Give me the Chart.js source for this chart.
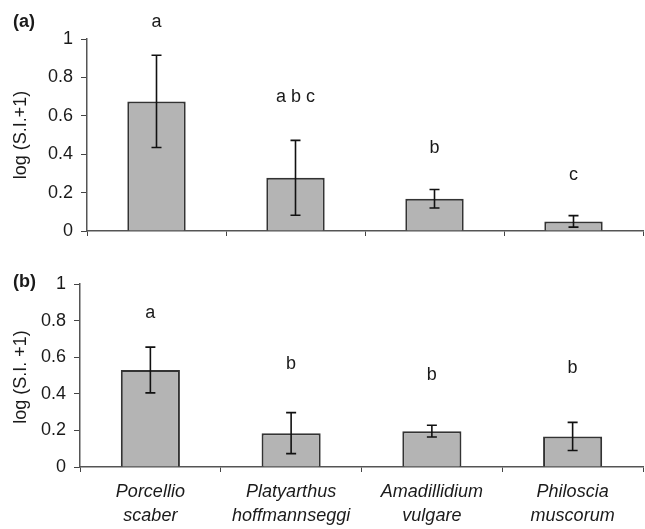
<!DOCTYPE html>
<html>
<head>
<meta charset="utf-8">
<script src="https://cdn.jsdelivr.net/npm/chart.js@4/dist/chart.umd.min.js"></script>
<style>
  body { margin: 0; background: #fff; }
  #wrap { position: relative; width: 645px; height: 529px; }
  #wrap canvas { position: absolute; left: 0; }
  #cA { top: 0; }
  #cB { top: 250px; }
</style>
</head>
<body>
<div id="wrap">
  <canvas id="cA" width="645" height="250"></canvas>
  <canvas id="cB" width="645" height="279"></canvas>
</div>
<script>
const species = [['Porcellio', 'scaber'], ['Platyarthus', 'hoffmannseggi'], ['Amadillidium', 'vulgare'], ['Philoscia', 'muscorum']];
const yTicks = [0, 0.2, 0.4, 0.6, 0.8, 1];

// panel (a)
const meanA = [0.675, 0.277, 0.168, 0.05];
const errA = [0.24, 0.195, 0.048, 0.03];
const lettersA = ['a', 'a b c', 'b', 'c'];
const letterYA = [1.09, 0.70, 0.43, 0.29];

// panel (b)
const meanB = [0.53, 0.185, 0.196, 0.167];
const errB = [0.125, 0.112, 0.032, 0.077];
const lettersB = ['a', 'b', 'b', 'b'];
const letterYB = [0.84, 0.56, 0.50, 0.54];

const FONT = "'Liberation Sans', Arial, sans-serif";
const TXT = '#1a1a1a';

// error bars and significance letters drawn through the scales
const extras = {
  id: 'extras',
  afterDatasetsDraw(chart, args, opts) {
    const ctx = chart.ctx;
    const x = chart.scales.x, y = chart.scales.y;
    ctx.save();
    ctx.strokeStyle = '#111';
    ctx.lineWidth = 1.6;
    opts.mean.forEach((m, i) => {
      const cx = x.getPixelForValue(i);
      const top = y.getPixelForValue(m + opts.err[i]);
      const bot = y.getPixelForValue(m - opts.err[i]);
      ctx.beginPath();
      ctx.moveTo(cx, top); ctx.lineTo(cx, bot);
      ctx.moveTo(cx - 5, top); ctx.lineTo(cx + 5, top);
      ctx.moveTo(cx - 5, bot); ctx.lineTo(cx + 5, bot);
      ctx.stroke();
    });
    ctx.fillStyle = TXT;
    ctx.font = '18px ' + FONT;
    ctx.textAlign = 'center';
    ctx.textBaseline = 'middle';
    opts.letters.forEach((t, i) => {
      ctx.fillText(t, x.getPixelForValue(i), y.getPixelForValue(opts.letterY[i]));
    });
    // panel tag and axis title
    ctx.font = 'bold 18px ' + FONT;
    ctx.textAlign = 'left';
    ctx.fillText(opts.tag, 13, opts.tagY);
    ctx.font = '18px ' + FONT;
    ctx.translate(21, opts.titleY);
    ctx.rotate(-Math.PI / 2);
    ctx.textAlign = 'center';
    ctx.fillText(opts.title, 0, 0);
    ctx.restore();
  }
};

function makeChart(id, mean, err, letters, letterY, cfg) {
  return new Chart(document.getElementById(id), {
    type: 'bar',
    data: {
      labels: species,
      datasets: [{
        data: mean,
        backgroundColor: '#b4b4b4',
        borderColor: '#333333',
        borderWidth: 2,
        categoryPercentage: 1,
        barPercentage: 0.42
      }]
    },
    options: {
      responsive: false,
      animation: false,
      layout: { padding: { left: 0, right: 2, top: cfg.top, bottom: 0 } },
      plugins: {
        legend: { display: false },
        tooltip: { enabled: false },
        extras: { mean: mean, err: err, letters: letters, letterY: letterY,
                  tag: cfg.tag, tagY: cfg.tagY, title: cfg.title, titleY: cfg.titleY }
      },
      scales: {
        x: {
          grid: { offset: true, drawOnChartArea: false, drawTicks: true, tickLength: 5, color: '#444' },
          border: { display: true, color: '#555', width: 1.5 },
          ticks: {
            display: cfg.showX,
            color: TXT,
            padding: 8,
            maxRotation: 0,
            autoSkip: false,
            font: { family: FONT, size: 18, style: 'italic', lineHeight: 1.33 }
          },
          afterFit: s => { s.height = cfg.xHeight; }
        },
        y: {
          min: 0, max: 1,
          afterBuildTicks: s => { s.ticks = yTicks.map(v => ({ value: v })); },
          grid: { drawOnChartArea: false, drawTicks: true, tickLength: 6, color: '#444' },
          border: { display: true, color: '#555', width: 1.5 },
          ticks: {
            color: TXT, padding: 8, font: { family: FONT, size: 18 },
            callback: v => String(Math.round(v * 10) / 10)
          },
          afterFit: s => { s.width = cfg.left; }
        }
      }
    },
    plugins: [extras]
  });
}

makeChart('cA', meanA, errA, lettersA, letterYA,
  { top: 39, left: 87, xHeight: 19, showX: false, tag: '(a)', tagY: 22, title: 'log (S.I.+1)', titleY: 135 });
makeChart('cB', meanB, errB, lettersB, letterYB,
  { top: 34, left: 80, xHeight: 62, showX: true, tag: '(b)', tagY: 32, title: 'log (S.I. +1)', titleY: 127 });
</script>
</body>
</html>
